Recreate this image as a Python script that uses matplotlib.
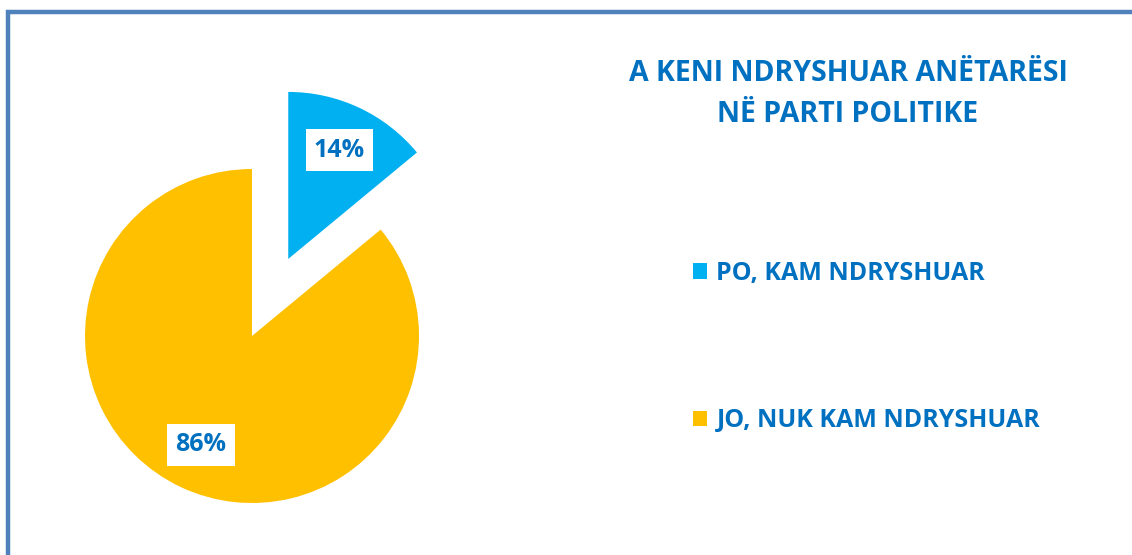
import matplotlib.pyplot as plt
from matplotlib.patches import Rectangle

# te dhenat
labels = ['PO, KAM NDRYSHUAR', 'JO, NUK KAM NDRYSHUAR']
values = [14, 86]
colors = ['#00B0F0', '#FFC000']
title = 'A KENI NDRYSHUAR ANËTARËSI\nNË PARTI POLITIKE'

W, H = 1132, 555
txt_color = '#0070C0'
plt.rcParams['font.family'] = ['Open Sans', 'DejaVu Sans']

fig = plt.figure(figsize=(W / 100, H / 100), dpi=100)

# korniza blu
fig.patches.append(Rectangle((7.5 / W, -0.1), 1.2, (H - 11.5) / H + 0.1,
                             transform=fig.transFigure, fill=False,
                             edgecolor='#4F81BD', linewidth=3.2))

# pie - qendra ne (252, 336) px, rrezja 167 px
ax = fig.add_axes([0, 0, 560 / W, 1])
r = 167
cx, cy = 252, H - 336
wedges, texts, autotexts = ax.pie(values, colors=colors, startangle=90,
                                  counterclock=False, explode=[0.51, 0],
                                  autopct='%d%%', pctdistance=0.72,
                                  wedgeprops=dict(linewidth=0))
ax.set_xlim(-cx / r, (560 - cx) / r)
ax.set_ylim(-cy / r, (H - cy) / r)
ax.set_aspect('auto')
for t in autotexts:
    t.set_color(txt_color)
    t.set_fontsize(18)
    t.set_fontweight('bold')
    t.set_bbox(dict(facecolor='white', edgecolor='none', pad=6))

fig.text(848 / W, 1 - 94 / H, title, ha='center', va='center',
         fontsize=20.5, fontweight='bold', color=txt_color, linespacing=1.55)

leg = fig.legend(wedges, labels, loc='center left',
                 bbox_to_anchor=(670 / W, 1 - 347 / H), frameon=False,
                 fontsize=18, labelspacing=4.9, handlelength=0.56,
                 handleheight=0.56, handletextpad=0.4)
for t in leg.get_texts():
    t.set_color(txt_color)
    t.set_fontweight('bold')

fig.savefig('out.png', dpi=100)
